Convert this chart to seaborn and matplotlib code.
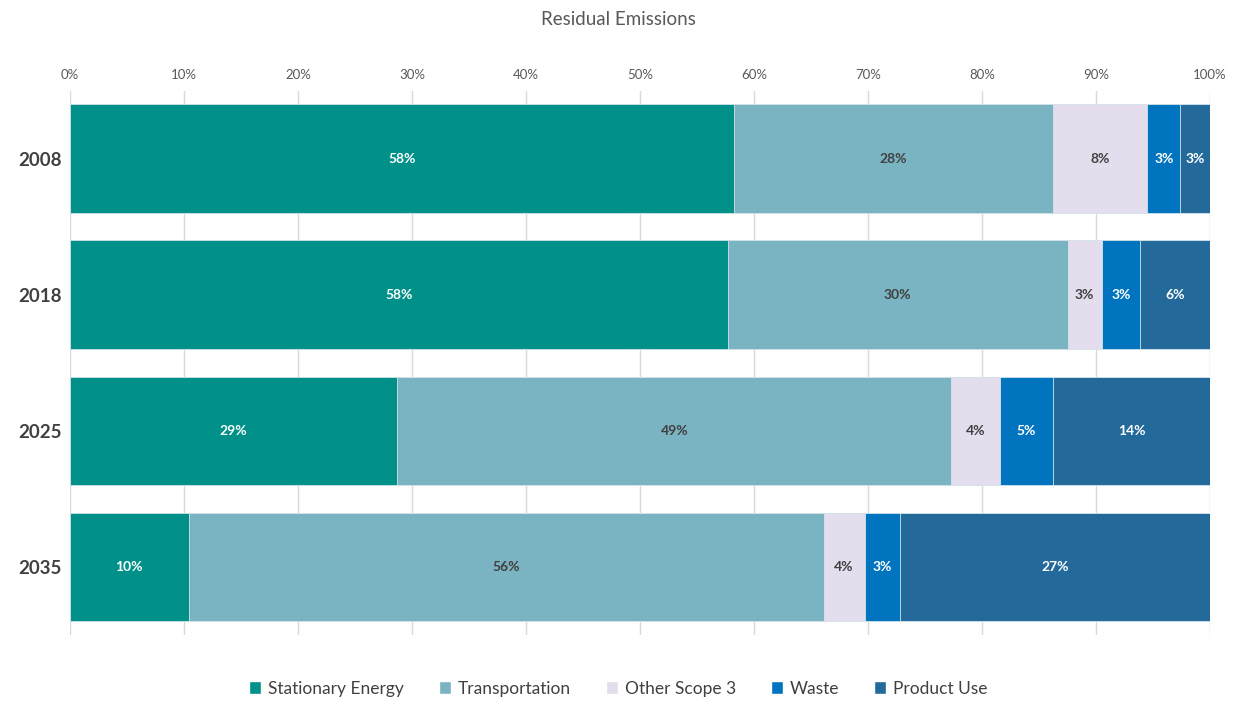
import numpy as np
import pandas as pd
import matplotlib
matplotlib.use("Agg")
import matplotlib.pyplot as plt
import matplotlib.patches as mpatches
import seaborn as sns

# data (percent of residual emissions)
years = ["2008", "2018", "2025", "2035"]
categories = ["Stationary Energy", "Transportation", "Other Scope 3", "Waste", "Product Use"]
stationary = [58.2, 57.7, 28.7, 10.4]
transport = [28.0, 29.8, 48.6, 55.7]
other_scope3 = [8.3, 3.0, 4.3, 3.6]
waste = [2.9, 3.4, 4.6, 3.1]
product_use = [2.6, 6.1, 13.8, 27.2]

colors = ["#00908A", "#7AB3C2", "#E3DDEE", "#0074BE", "#236A9B"]
label_colors = ["white", "#404040", "#404040", "white", "white"]

df = pd.DataFrame({"Year": years, "Stationary Energy": stationary,
                   "Transportation": transport, "Other Scope 3": other_scope3,
                   "Waste": waste, "Product Use": product_use})

sns.set_theme(style="white")
plt.rcParams["font.family"] = ["Lato", "DejaVu Sans"]

fig = plt.figure(figsize=(12.37, 7.04), dpi=100)
ax = fig.add_axes([0.0566, 0.098, 0.9216, 0.773])

# cumulative sums, drawn from the largest down so each segment shows
cum = df[categories].cumsum(axis=1)
for cat, col in reversed(list(zip(categories, colors))):
    sns.barplot(data=cum.assign(Year=df["Year"]), x=cat, y="Year", orient="h",
                color=col, width=0.8, saturation=1, ax=ax,
                edgecolor="#D6E4EA", linewidth=0.6, zorder=3)

# segment labels
for i, yr in enumerate(years):
    left = 0
    for cat, lc in zip(categories, label_colors):
        v = df.loc[i, cat]
        ax.text(left + v / 2, i, f"{v:.0f}%", ha="center", va="center",
                color=lc, fontsize=10, fontweight="bold", zorder=5)
        left += v

ax.set_xlim(0, 100)
ax.set_ylim(3.5, -0.5)
ax.set_xticks(np.arange(0, 101, 10))
ax.set_xticklabels([f"{t}%" for t in range(0, 101, 10)], color="#595959", fontsize=9.5)
ax.xaxis.tick_top()
ax.tick_params(axis="x", length=0, pad=7)
ax.tick_params(axis="y", length=0, pad=6)
ax.set_yticks(range(len(years)))
ax.set_yticklabels(years, fontsize=13.5, fontweight="bold", color="#404040")
ax.set_xlabel("")
ax.set_ylabel("")
ax.grid(axis="x", color="#D9D9D9", linewidth=1, zorder=0)
for s in ax.spines.values():
    s.set_visible(False)

fig.suptitle("Residual Emissions", y=0.985, fontsize=13.5, color="#595959")

handles = [mpatches.Patch(facecolor=c, label=l) for c, l in zip(colors, categories)]
fig.legend(handles=handles, loc="center", bbox_to_anchor=(0.5, 0.022), ncol=5,
           frameon=False, fontsize=12.5, handlelength=0.7, handleheight=0.7,
           handletextpad=0.4, columnspacing=2.0, labelcolor="#404040")

fig.savefig("out.png", dpi=100)
